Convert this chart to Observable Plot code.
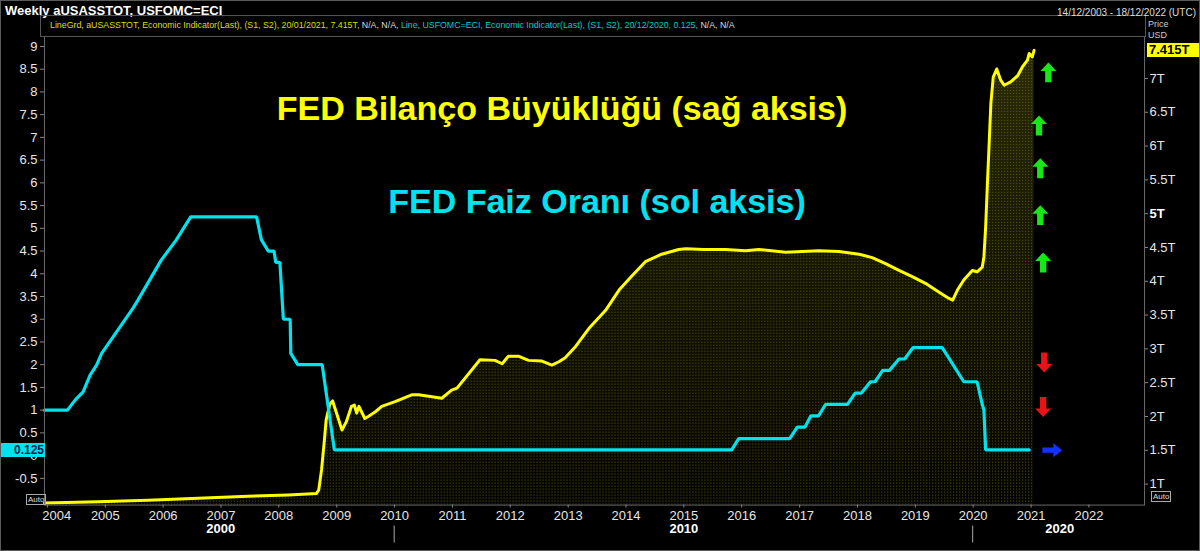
<!DOCTYPE html>
<html><head><meta charset="utf-8">
<script src="https://cdn.jsdelivr.net/npm/d3@7"></script>
<script src="https://cdn.jsdelivr.net/npm/@observablehq/plot@0.6"></script>
<style>
html,body{margin:0;padding:0;background:#000;}
#wrap{position:relative;width:1200px;height:551px;overflow:hidden;background:#000;font-family:"Liberation Sans",Arial,sans-serif;box-sizing:border-box;border:1px solid #5a5a5a;}
#chart{position:absolute;left:-1px;top:-1px;}
.abs{position:absolute;white-space:nowrap;}
.big{font-weight:bold;font-size:34px;transform:translateX(-50%);}
.auto{font-size:8px;color:#ddd;border:1px solid #aaa;line-height:9px;padding:0 1px;}
</style></head><body>
<div id="wrap"><div id="chart"></div></div>
<script>
// ---------- data ----------
const balanceDates = ["2003-12-14","2004-11-18","2005-09-27","2006-08-10","2007-06-20","2008-03-02","2008-08-25","2008-09-09","2008-09-27","2008-10-15","2008-10-26","2008-11-18","2008-12-06","2009-02-03","2009-03-02","2009-04-04","2009-04-22","2009-05-07","2009-05-21","2009-06-27","2009-07-19","2009-09-02","2009-10-12","2010-01-04","2010-04-19","2010-06-02","2010-10-26","2010-12-27","2011-01-30","2011-06-24","2011-09-27","2011-11-11","2011-12-20","2012-02-25","2012-04-26","2012-07-19","2012-09-20","2012-11-03","2012-12-13","2013-02-18","2013-05-11","2013-08-25","2013-11-18","2014-02-11","2014-05-03","2014-08-14","2014-11-29","2015-01-12","2015-05-07","2015-09-20","2016-01-26","2016-04-19","2016-10-05","2017-05-03","2017-09-06","2018-01-12","2018-04-04","2018-06-27","2018-09-20","2018-12-13","2019-03-06","2019-05-29","2019-07-30","2019-08-25","2019-09-24","2019-11-03","2019-12-27","2020-01-26","2020-02-28","2020-03-09","2020-03-20","2020-04-01","2020-04-12","2020-04-22","2020-05-07","2020-05-29","2020-06-24","2020-07-15","2020-08-25","2020-10-08","2020-11-07","2020-12-09","2020-12-20","2021-01-08","2021-01-20"];
const balanceT = [0.72,0.74,0.76,0.79,0.82,0.84,0.86,0.91,1.21,1.65,1.95,2.18,2.23,1.80,1.92,2.15,2.17,2.05,2.15,1.97,2.00,2.07,2.15,2.22,2.32,2.32,2.27,2.39,2.42,2.84,2.83,2.78,2.89,2.89,2.83,2.82,2.76,2.81,2.87,3.04,3.30,3.57,3.87,4.09,4.29,4.40,4.47,4.48,4.47,4.47,4.45,4.47,4.43,4.45,4.44,4.40,4.35,4.26,4.16,4.07,3.97,3.84,3.75,3.72,3.87,4.02,4.16,4.14,4.21,4.36,4.80,5.49,6.08,6.63,7.02,7.14,6.97,6.90,6.95,7.04,7.17,7.27,7.37,7.32,7.415];

const rateDates = ["2003-12-14","2004-05-07","2004-06-24","2004-08-14","2004-09-27","2004-11-07","2004-12-09","2005-06-24","2005-07-26","2005-12-20","2006-03-24","2006-06-24","2007-08-14","2007-09-13","2007-10-26","2007-12-02","2007-12-13","2008-01-08","2008-01-30","2008-03-13","2008-03-17","2008-04-30","2008-10-01","2008-12-17","2015-10-30","2015-12-13","2016-10-30","2016-12-17","2017-02-03","2017-03-13","2017-04-30","2017-06-13","2017-10-30","2017-12-17","2018-01-26","2018-03-24","2018-04-22","2018-06-09","2018-07-22","2018-09-20","2018-10-26","2018-12-17","2019-06-20","2019-11-03","2020-01-26","2020-02-24","2020-03-09","2020-03-20","2020-12-20"];
const rateValues = [1.0,1.0,1.22,1.40,1.77,1.99,2.25,3.24,3.42,4.30,4.74,5.25,5.25,4.75,4.5,4.5,4.25,4.25,3.0,3.0,2.25,2.0,2.0,0.125,0.125,0.375,0.375,0.625,0.625,0.875,0.875,1.125,1.125,1.375,1.375,1.625,1.625,1.875,1.875,2.125,2.125,2.375,2.375,1.625,1.625,1.18,1.0,0.125,0.125];

const years = [2004,2005,2006,2007,2008,2009,2010,2011,2012,2013,2014,2015,2016,2017,2018,2019,2020,2021,2022];
const decadeLabels = ["2000","2010","2020"];
const decadeMidDates = ["2006-12-31","2015-01-01","2021-07-01"];
const decadeDividers = ["2010-01-01","2020-01-01"];
const leftTicks = [-0.5,0,0.5,1,1.5,2,2.5,3,3.5,4,4.5,5,5.5,6,6.5,7,7.5,8,8.5,9];
const rightTicksT = [1,1.5,2,2.5,3,3.5,4,4.5,5,5.5,6,6.5,7];

const upArrowDates = ["2021-04-20","2021-02-20","2021-02-28","2021-02-28","2021-03-18"];
const upArrowValues = [8.43,7.26,6.32,5.29,4.25];
const downArrowDates = ["2021-03-25","2021-03-18"];
const downArrowValues = [2.05,1.07];
const rightArrowDates = ["2021-05-15"];
const rightArrowValues = [0.12];

const titleBalance = "FED Bilanço Büyüklüğü (sağ aksis)";
const titleRate = "FED Faiz Oranı (sol aksis)";

// ---------- derived ----------
const Y_MIN = -1.088, Y_MAX = 9.22;
const toRate = T => -2.1139 + 1.4872 * T;       // right axis (T USD) -> left axis units
const fromRate = r => (r + 2.1139) / 1.4872;
const balance = balanceDates.map((d, i) => ({date: new Date(d), T: balanceT[i], r: toRate(balanceT[i])}));
const rate = rateDates.map((d, i) => ({date: new Date(d), v: rateValues[i]}));
const pts = (ds, vs) => ds.map((d, i) => ({date: new Date(d), v: vs[i]}));
const decades = decadeLabels.map((l, i) => ({label: l, date: new Date(decadeMidDates[i])}));
const yearDates = years.map(y => new Date(Date.UTC(y, 0, 1)));

const upShape = {draw(c){c.moveTo(0,-10);c.lineTo(8,-1.5);c.lineTo(3.2,-1.5);c.lineTo(3.2,10);c.lineTo(-3.2,10);c.lineTo(-3.2,-1.5);c.lineTo(-8,-1.5);c.closePath();}};
const downShape = {draw(c){c.moveTo(0,10);c.lineTo(8,1.5);c.lineTo(3.2,1.5);c.lineTo(3.2,-10);c.lineTo(-3.2,-10);c.lineTo(-3.2,1.5);c.lineTo(-8,1.5);c.closePath();}};
const rightShape = {draw(c){c.moveTo(10,0);c.lineTo(1,-7);c.lineTo(1,-2.6);c.lineTo(-10,-2.6);c.lineTo(-10,2.6);c.lineTo(1,2.6);c.lineTo(1,7);c.closePath();}};

const fmtT = r => d3.format("~g")(Math.round(fromRate(r) * 10) / 10) + "T";
const fmtL = d => String(d);

const plot = Plot.plot({
  width: 1200, height: 551,
  marginTop: 36, marginLeft: 44, marginRight: 55, marginBottom: 46,
  style: {background: "#000", color: "#e0e0e0", fontFamily: "'Liberation Sans', Arial, sans-serif", fontSize: "13px"},
  x: {type: "utc", domain: [new Date("2003-12-14"), new Date("2022-12-18")]},
  y: {domain: [Y_MIN, Y_MAX]},
  marks: [
    Plot.areaY(balance, {x: "date", y1: Y_MIN, y2: "r", fill: "url(#grd)"}),
    Plot.areaY(balance, {x: "date", y1: Y_MIN, y2: "r", fill: "url(#dots)"}),
    Plot.line(balance, {x: "date", y: "r", stroke: "#ffff00", strokeWidth: 3}),
    Plot.line(rate, {x: "date", y: "v", stroke: "#00e3ee", strokeWidth: 3.2, strokeLinejoin: "miter"}),
    Plot.frame({stroke: "#6a6a6a"}),
    Plot.axisY(leftTicks, {anchor: "left", tickSize: 4, tickPadding: 3, label: null, tickFormat: fmtL, fontSize: 13, color: "#e6e6e6", stroke: "#888"}),
    Plot.axisY(rightTicksT.filter(t => t !== 5).map(toRate), {anchor: "right", tickSize: 3, tickPadding: 2, label: null, tickFormat: fmtT, fontSize: 13, color: "#e6e6e6", stroke: "#888"}),
    Plot.axisY([toRate(5)], {anchor: "right", tickSize: 3, tickPadding: 2, label: null, tickFormat: fmtT, fontSize: 13, fontWeight: "bold", color: "#ffffff", stroke: "#888"}),
    Plot.axisX(yearDates, {anchor: "bottom", tickSize: 3, tickPadding: 3, label: null, tickFormat: "%Y", fontSize: 13, color: "#e6e6e6", stroke: "#888"}),
    Plot.text(decades, {x: "date", text: "label", frameAnchor: "bottom", dy: 28, fill: "#ffffff", fontWeight: "bold", fontSize: 13}),
    Plot.dot(pts(upArrowDates, upArrowValues), {x: "date", y: "v", symbol: upShape, r: 10, fill: "#19e619", stroke: "none"}),
    Plot.dot(pts(downArrowDates, downArrowValues), {x: "date", y: "v", symbol: downShape, r: 10, fill: "#e61414", stroke: "none"}),
    Plot.dot(pts(rightArrowDates, rightArrowValues), {x: "date", y: "v", symbol: rightShape, r: 10, fill: "#1432ff", stroke: "none"})
  ]
});

const svg = d3.select(plot);
const defs = svg.insert("defs", ":first-child");
const pat = defs.append("pattern").attr("id", "dots").attr("width", 3).attr("height", 3).attr("patternUnits", "userSpaceOnUse");
pat.append("rect").attr("width", 1).attr("height", 1).attr("fill", "#5c5c14");
const grad = defs.append("linearGradient").attr("id", "grd").attr("x1", 0).attr("x2", 0).attr("y1", 0).attr("y2", 1);
grad.append("stop").attr("offset", 0).attr("stop-color", "#2c2c06");
grad.append("stop").attr("offset", 0.5).attr("stop-color", "#141402");
grad.append("stop").attr("offset", 1).attr("stop-color", "#040400");

const xs = plot.scale("x"), ys = plot.scale("y");
decadeDividers.forEach(d => {
  const x = Math.round(xs.apply(new Date(d))) + 0.5;
  svg.append("line").attr("x1", x).attr("x2", x).attr("y1", 526).attr("y2", 543).attr("stroke", "#aaa").attr("stroke-width", 1);
});
const firstLabel = svg.selectAll("g[aria-label='x-axis tick label'] text").filter((d, i) => i === 0);
firstLabel.attr("text-anchor", "start").attr("dx", -5);

document.getElementById("chart").appendChild(plot);

// ---------- html overlays ----------
const wrap = document.getElementById("wrap");
function add(html, style, cls) {
  const el = document.createElement("div");
  el.className = "abs " + (cls || "");
  el.setAttribute("style", style);
  el.innerHTML = html;
  wrap.appendChild(el);
  return el;
}
const lastB = balance[balance.length - 1], lastR = rate[rate.length - 1];
add("Weekly aUSASSTOT, USFOMC=ECI", "left:4px;top:2px;font-size:13px;font-weight:bold;color:#fff;");
add("", "left:39px;top:14px;width:1106px;height:22px;border:1px solid #555;box-sizing:border-box;");
add(`<span style="color:#dede00">LineGrd, aUSASSTOT, Economic Indicator(Last), (S1, S2), 20/01/2021, ${lastB.T}T, </span><span style="color:#ddd">N/A, N/A, </span><span style="color:#00c8d2">Line, USFOMC=ECI, Economic Indicator(Last), (S1, S2), 20/12/2020, ${lastR.v}, </span><span style="color:#ddd">N/A, N/A</span>`,
  "left:49px;top:19px;font-size:8.8px;");
add("14/12/2003 - 18/12/2022 (UTC)", "right:3px;top:6px;font-size:10px;color:#ddd;");
add("Price", "left:1147px;top:18px;font-size:9px;color:#ccc;");
add("USD", "left:1147px;top:29px;font-size:9px;color:#ccc;");
const yT = ys.apply(toRate(lastB.T)) - 1;
add(`${lastB.T}T`, `left:1146px;top:${yT - 7}px;width:52px;height:14px;background:#ffff00;color:#000;font-weight:bold;font-size:13px;line-height:14px;padding-left:2px;box-sizing:border-box;`);
const yR = ys.apply(lastR.v) - 1;
add(`${lastR.v}`, `left:0px;top:${yR - 7}px;width:44px;height:14px;background:#00e3ee;color:#0a1e50;font-weight:bold;font-size:12px;line-height:14px;text-align:right;padding-right:1px;box-sizing:border-box;`);
add("Auto", "left:25px;top:493px;", "auto");
add("Auto", "left:1150px;top:490px;", "auto");
add(titleBalance, "left:561px;top:88px;color:#ffff00;", "big");
add(titleRate, "left:596px;top:181px;color:#00e3ee;", "big");
</script>
</body></html>
